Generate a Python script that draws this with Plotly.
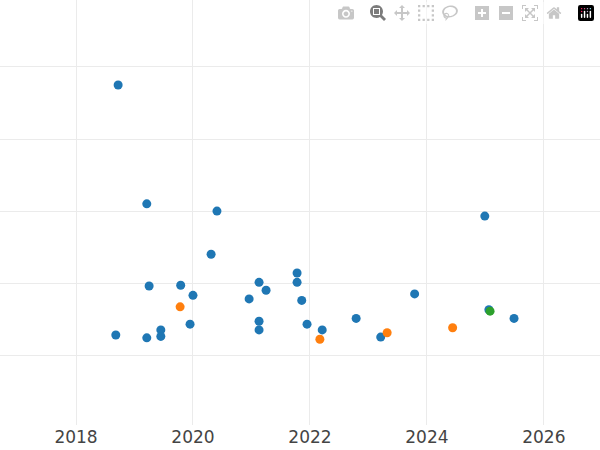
import plotly.graph_objects as go

blue_x = [2018.72, 2019.21, 2020.41, 2024.99, 2020.31, 2019.25, 2019.79, 2020.00, 2021.13, 2021.25,
          2021.78, 2021.78, 2020.96, 2021.86, 2023.79, 2021.13, 2019.95, 2021.13, 2021.95, 2022.21,
          2022.79, 2018.68, 2019.21, 2019.45, 2019.45, 2023.21, 2025.06, 2025.49]
blue_y = [3.75, 2.10, 2.00, 1.93, 1.40, 0.96, 0.97, 0.83, 1.01, 0.90,
          1.14, 1.01, 0.78, 0.76, 0.85, 0.47, 0.43, 0.35, 0.43, 0.35,
          0.51, 0.28, 0.24, 0.35, 0.26, 0.25, 0.63, 0.51]
orange_x = [2019.78, 2022.17, 2023.32, 2024.44]
orange_y = [0.67, 0.22, 0.31, 0.38]
green_x = [2025.08]
green_y = [0.61]
year_ticks = [2018, 2020, 2022, 2024, 2026]

fig = go.Figure()
for xs, ys, c in [(blue_x, blue_y, "#1f77b4"), (orange_x, orange_y, "#ff7f0e"), (green_x, green_y, "#2ca02c")]:
    fig.add_trace(go.Scatter(x=xs, y=ys, mode="markers", marker=dict(color=c, size=9), showlegend=False))

fig.update_layout(
    width=600, height=450, plot_bgcolor="white", paper_bgcolor="white",
    margin=dict(l=0, r=0, t=0, b=25),
    xaxis=dict(range=[2016.70, 2026.96], tickvals=year_ticks, showgrid=True, gridcolor="#ebebeb",
               zeroline=False, tickfont=dict(size=17, color="#444", family="DejaVu Sans")),
    yaxis=dict(range=[-0.97, 4.93], dtick=1, showticklabels=False, showgrid=True, gridcolor="#ebebeb",
               zeroline=False),
)
fig.write_html("out.html")
with open("out.html", encoding="utf-8") as f:
    html = f.read()
html = html.replace("<body>", '<body style="margin:0;overflow:hidden">', 1)
with open("out.html", "w", encoding="utf-8") as f:
    f.write(html)
